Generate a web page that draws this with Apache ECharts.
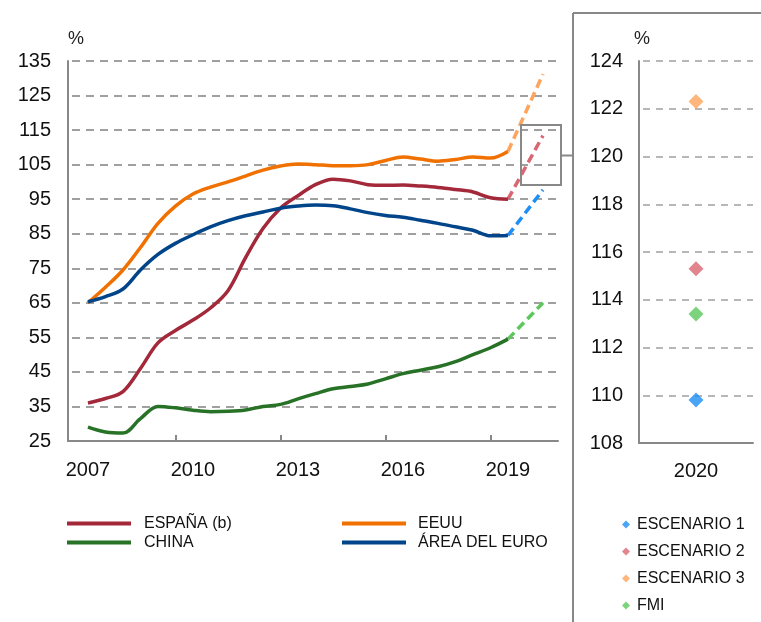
<!DOCTYPE html>
<html>
<head>
<meta charset="utf-8">
<script src="https://cdn.jsdelivr.net/npm/echarts@6/dist/echarts.min.js"></script>
<style>
html,body{margin:0;padding:0;background:#fff;}
#chart{width:761px;height:622px;}
</style>
</head>
<body>
<div id="chart"></div>
<script>
// ---- Data ----
const years = [2007, 2007.5, 2008, 2008.5, 2009, 2009.5, 2010, 2010.5, 2011, 2011.5, 2012, 2012.5, 2013, 2013.5, 2014, 2014.5, 2015, 2015.5, 2016, 2016.5, 2017, 2017.5, 2018, 2018.5, 2019];
const espana = [36, 37.3, 39.3, 46, 53.4, 57, 60, 63.5, 68.5, 78, 86.5, 92.4, 96, 99.2, 100.8, 100.3, 99.2, 99.0, 99.1, 98.8, 98.4, 97.8, 97.1, 95.4, 95.0];
const eeuu = [65, 69.5, 74.5, 81, 88, 93, 96.5, 98.5, 100, 101.7, 103.4, 104.6, 105.2, 105, 104.7, 104.7, 105, 106.2, 107.2, 106.6, 106, 106.5, 107.2, 106.9, 108.8];
const china = [29, 27.6, 27.3, 31.5, 35, 34.6, 33.9, 33.5, 33.6, 34, 35, 35.6, 37.2, 38.7, 40.1, 40.8, 41.5, 43, 44.5, 45.5, 46.5, 48, 50, 52, 54.5];
const areaEuro = [65.3, 66.8, 69, 74.5, 79, 82.2, 84.7, 87, 88.8, 90.2, 91.3, 92.4, 93, 93.3, 93.1, 92.2, 91.1, 90.3, 89.8, 88.9, 88, 87, 86, 84.4, 84.5];

const projYears = [2019, 2020];
const proyEsc1 = [84.5, 97.7];
const proyEsc2 = [95.0, 113.4];
const proyEsc3 = [108.8, 131.2];
const proyFmi = [54.5, 65];

const escenarios = ['ESCENARIO 1', 'ESCENARIO 2', 'ESCENARIO 3', 'FMI'];
const valores2020 = [109.8, 115.3, 122.3, 113.4];
const catDerecha = ['2020'];

const xLabelYears = [2007, 2010, 2013, 2016, 2019];
const xTickYears = [2009.5, 2012.5, 2015.5, 2018.5];

// ---- Styles ----
const C = {
  espana: '#A3283A', eeuu: '#F07100', china: '#277227', euro: '#00458A',
  esc1: '#1E8FF5', esc2: '#D96673', esc3: '#FFA45C', fmi: '#5CC85C'
};
const AX = '#888888';
const GRID = '#A0A0A0';
const NUMFONT = "'Liberation Sans', Arial, sans-serif";
const LEGFONT = "'Liberation Sans', Arial, sans-serif";

const pairs = (xs, ys) => xs.map((x, i) => [x, ys[i]]);

const solid = (name, vals, color) => ({
  name, type: 'line', xAxisIndex: 0, yAxisIndex: 0,
  data: pairs(years, vals), smooth: 0.35, symbol: 'none',
  lineStyle: { color, width: 3.5 }, itemStyle: { color }, z: 3
});
const dashed = (name, vals, color) => ({
  name, type: 'line', xAxisIndex: 0, yAxisIndex: 0,
  data: pairs(projYears, vals), symbol: 'none',
  lineStyle: { color, width: 3.5, type: [9, 5] }, itemStyle: { color }, z: 2
});
const scat = (i, color) => ({
  name: escenarios[i], type: 'scatter', xAxisIndex: 1, yAxisIndex: 1,
  data: [[catDerecha[0], valores2020[i]]], symbol: 'diamond', symbolSize: 15,
  itemStyle: { color }, z: 3
});

const chart = echarts.init(document.getElementById('chart'), null, { renderer: 'canvas' });

chart.setOption({
  animation: false,
  backgroundColor: '#ffffff',
  grid: [
    { left: 68, top: 61, width: 490, height: 380 },
    { left: 639, top: 61, width: 114, height: 382 }
  ],
  xAxis: [
    {
      gridIndex: 0, type: 'value', min: 2006.43, max: 2020.43,
      axisLine: { show: true, lineStyle: { color: AX, width: 2 } },
      axisTick: { show: true, inside: true, length: 6, customValues: xTickYears, lineStyle: { color: AX, width: 2 } },
      axisLabel: { customValues: xLabelYears, formatter: v => String(Math.round(v)), fontSize: 20, fontFamily: NUMFONT, color: '#111', margin: 19 },
      splitLine: { show: false }
    },
    {
      gridIndex: 1, type: 'category', data: catDerecha,
      axisLine: { show: true, lineStyle: { color: AX, width: 2 } },
      axisTick: { show: false },
      axisLabel: { fontSize: 20, fontFamily: NUMFONT, color: '#111', margin: 18 },
      splitLine: { show: false }
    }
  ],
  yAxis: [
    {
      gridIndex: 0, type: 'value', min: 25, max: 135, interval: 10,
      axisLine: { show: true, lineStyle: { color: AX, width: 2 } },
      axisTick: { show: false },
      axisLabel: { fontSize: 20, fontFamily: NUMFONT, color: '#111', margin: 17 },
      splitLine: { show: true, lineStyle: { color: GRID, width: 2, type: [8, 6], dashOffset: -4 } }
    },
    {
      gridIndex: 1, type: 'value', min: 108, max: 124, interval: 2,
      axisLine: { show: true, lineStyle: { color: AX, width: 2 } },
      axisTick: { show: false },
      axisLabel: { fontSize: 20, fontFamily: NUMFONT, color: '#111', margin: 16 },
      splitLine: { show: true, lineStyle: { color: GRID, width: 1.5, type: [7, 6], dashOffset: -4 } }
    }
  ],
  legend: [
    {
      data: ['ESPAÑA (b)', 'CHINA'], orient: 'vertical', left: 62, top: 510,
      icon: 'rect', itemWidth: 64, itemHeight: 4, itemGap: 2,
      textStyle: { fontFamily: LEGFONT, fontSize: 16, color: '#111', lineHeight: 17, padding: [0, 0, 0, 8] },
      selectedMode: false
    },
    {
      data: ['EEUU', 'ÁREA DEL EURO'], orient: 'vertical', left: 337, top: 510,
      icon: 'rect', itemWidth: 64, itemHeight: 4, itemGap: 2,
      textStyle: { fontFamily: LEGFONT, fontSize: 16, color: '#111', lineHeight: 17, padding: [0, 0, 0, 7] },
      selectedMode: false
    },
    {
      data: escenarios, orient: 'vertical', left: 617, top: 511,
      icon: 'diamond', itemWidth: 8, itemHeight: 8, itemGap: 10,
      textStyle: { fontFamily: LEGFONT, fontSize: 16, color: '#111', lineHeight: 17, padding: [0, 0, 0, 2] },
      selectedMode: false
    }
  ],
  graphic: [
    { type: 'text', left: 68, top: 30, style: { text: '%', fontSize: 18, fontFamily: NUMFONT, fill: '#222' } },
    { type: 'text', left: 634, top: 30, style: { text: '%', fontSize: 18, fontFamily: NUMFONT, fill: '#222' } },
    { type: 'line', shape: { x1: 573, y1: 13, x2: 573, y2: 622 }, style: { stroke: AX, lineWidth: 2 } },
    { type: 'line', shape: { x1: 573, y1: 13, x2: 761, y2: 13 }, style: { stroke: AX, lineWidth: 2 } },
    { type: 'rect', shape: { x: 521, y: 125, width: 40, height: 60 }, style: { fill: 'none', stroke: AX, lineWidth: 2 }, z: 10 },
    { type: 'line', shape: { x1: 561, y1: 155.5, x2: 573, y2: 155.5 }, style: { stroke: AX, lineWidth: 2 }, z: 10 }
  ],
  series: [
    solid('ESPAÑA (b)', espana, C.espana),
    solid('EEUU', eeuu, C.eeuu),
    solid('CHINA', china, C.china),
    solid('ÁREA DEL EURO', areaEuro, C.euro),
    dashed('proy esc1', proyEsc1, C.esc1),
    dashed('proy esc2', proyEsc2, C.esc2),
    dashed('proy esc3', proyEsc3, C.esc3),
    dashed('proy fmi', proyFmi, C.fmi),
    scat(0, C.esc1),
    scat(1, C.esc2),
    scat(2, C.esc3),
    scat(3, C.fmi)
  ]
});
</script>
</body>
</html>
